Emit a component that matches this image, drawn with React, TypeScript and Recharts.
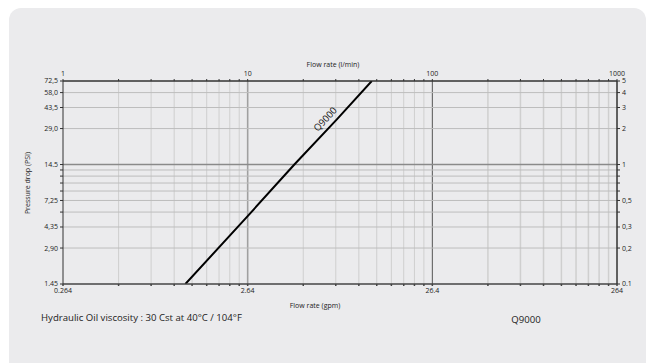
import React from 'react';
import { LineChart, Line, XAxis, YAxis, ReferenceLine } from 'recharts';

// Q9000 pressure drop curve
const FLOW_LMIN = [4.6, 10, 17.9, 30.5, 47];
const DROP_BAR = [0.1, 0.37, 1, 2.4, 5];

// axis ticks (l/min on top, gpm on bottom, same positions)
const X_TICKS = [1, 2, 3, 4, 5, 6, 7, 8, 9, 10, 20, 30, 40, 50, 60, 70, 80, 90, 100, 200, 300, 400, 500, 600, 700, 800, 900, 1000];
const X_TOP_LABELS: Record<string, string> = { '1': '1', '10': '10', '100': '100', '1000': '1000' };
const X_BOTTOM_LABELS: Record<string, string> = { '1': '0.264', '10': '2.64', '100': '26.4', '1000': '264' };

const Y_TICKS = [0.1, 0.2, 0.3, 0.4, 0.5, 0.6, 0.7, 0.8, 0.9, 1, 2, 3, 4, 5];
const Y_PSI_LABELS: Record<string, string> = {
  '0.1': '1.45', '0.2': '2,90', '0.3': '4,35', '0.5': '7,25', '1': '14.5',
  '2': '29,0', '3': '43,5', '4': '58,0', '5': '72,5',
};
const Y_BAR_LABELS: Record<string, string> = {
  '0.1': '0.1', '0.2': '0,2', '0.3': '0,3', '0.5': '0,5', '1': '1',
  '2': '2', '3': '3', '4': '4', '5': '5',
};

const V_GRID = [2, 3, 4, 5, 6, 7, 8, 9, 10, 20, 30, 40, 50, 60, 70, 80, 90, 100, 200, 300, 400, 500, 600, 700, 800, 900];
const H_GRID = [0.2, 0.3, 0.4, 0.5, 0.6, 0.7, 0.8, 0.9, 1, 2, 3, 4];

const data = FLOW_LMIN.map((f, i) => ({ flow: f, bar: DROP_BAR[i] }));

const FONT = '"Open Sans", "DejaVu Sans", sans-serif';
const TICK = { fontSize: 7, fill: '#222', fontFamily: FONT };

const vStroke = (v: number) => (v === 10 ? '#a0a0a0' : v === 100 ? '#555' : '#cfcfcf');
const vWidth = (v: number) => (v === 10 ? 1.6 : v > 100 ? 1.5 : 1);
const hStroke = (v: number) => (v === 1 ? '#8a8a8a' : '#bdbdbd');

const lineLabel = (props: any) => {
  const { x, y, index } = props;
  if (index !== 3) return null;
  return (
    <text
      x={x - 12}
      y={y}
      transform={`rotate(-47 ${x - 12} ${y})`}
      textAnchor="middle"
      dominantBaseline="central"
      fontSize={9.5}
      fontFamily={FONT}
      fill="#111"
    >
      Q9000
    </text>
  );
};

const abs = (extra: React.CSSProperties): React.CSSProperties => ({
  position: 'absolute', fontFamily: FONT, color: '#222', whiteSpace: 'nowrap', lineHeight: 1, ...extra,
});

export default function App() {
  return (
    <div style={{ position: 'relative', width: 646, height: 355 }}>
      <div style={{ position: 'absolute', left: 1, top: 0, width: 637, height: 370, background: '#ebebed', borderRadius: 12 }} />
      <div style={{ position: 'absolute', left: 0, top: 0 }}>
        <LineChart width={646} height={355} data={data} margin={{ top: 58, right: 7, bottom: 64, left: 15 }}>
          <XAxis
            xAxisId="top" orientation="top" dataKey="flow" type="number" scale="log" domain={[1, 1000]}
            ticks={X_TICKS} interval={0} tickFormatter={(v) => X_TOP_LABELS[String(v)] ?? ''}
            tick={TICK} tickSize={2} tickMargin={3} height={15} stroke="#333" allowDataOverflow
          />
          <XAxis
            xAxisId="bottom" orientation="bottom" dataKey="flow" type="number" scale="log" domain={[1, 1000]}
            ticks={X_TICKS} interval={0} tickFormatter={(v) => X_BOTTOM_LABELS[String(v)] ?? ''}
            tick={TICK} tickSize={2} tickMargin={2} height={15} stroke="#444" strokeWidth={1.5} allowDataOverflow
          />
          <YAxis
            yAxisId="left" orientation="left" dataKey="bar" type="number" scale="log" domain={[0.1, 5]}
            ticks={Y_TICKS} interval={0} tickFormatter={(v) => Y_PSI_LABELS[String(v)] ?? ''}
            tick={TICK} tickSize={3} tickMargin={2} width={40} stroke="#333" allowDataOverflow
          />
          <YAxis
            yAxisId="right" orientation="right" dataKey="bar" type="number" scale="log" domain={[0.1, 5]}
            ticks={Y_TICKS} interval={0} tickFormatter={(v) => Y_BAR_LABELS[String(v)] ?? ''}
            tick={{ ...TICK, textAnchor: 'start' }} tickSize={3} tickMargin={2} width={30} stroke="#333" allowDataOverflow
          />
          {V_GRID.map((v) => (
            <ReferenceLine key={`v${v}`} x={v} xAxisId="top" yAxisId="left" stroke={vStroke(v)} strokeWidth={vWidth(v)} />
          ))}
          {H_GRID.map((v) => (
            <ReferenceLine key={`h${v}`} y={v} xAxisId="top" yAxisId="left" stroke={hStroke(v)} strokeWidth={v === 1 ? 1.5 : 1} />
          ))}
          <ReferenceLine y={5} xAxisId="top" yAxisId="left" stroke="#333" />
          <ReferenceLine x={1000} xAxisId="top" yAxisId="left" stroke="#333" />
          <Line
            xAxisId="top" yAxisId="left" dataKey="bar" type="linear" stroke="#000" strokeWidth={2}
            dot={false} activeDot={false} isAnimationActive={false} label={lineLabel}
          />
        </LineChart>
      </div>
      <div style={abs({ left: 325, top: 53, fontSize: 7, transform: 'translateX(-50%)' })}>Flow rate (l/min)</div>
      <div style={abs({ left: 307, top: 294, fontSize: 7, transform: 'translateX(-50%)' })}>Flow rate (gpm)</div>
      <div style={abs({ left: 19, top: 175, fontSize: 7, transform: 'translate(-50%, -50%) rotate(-90deg)' })}>Pressure drop (PSI)</div>
      <div style={abs({ left: 641, top: 175, fontSize: 7, transform: 'translate(-50%, -50%) rotate(-90deg)' })}>Pressure drop (bar)</div>
      <div style={abs({ left: 33, top: 305, fontSize: 9.6 })}>Hydraulic Oil viscosity : 30 Cst at 40°C / 104°F</div>
      <div style={abs({ left: 518, top: 307, fontSize: 9.6, transform: 'translateX(-50%)' })}>Q9000</div>
    </div>
  );
}
